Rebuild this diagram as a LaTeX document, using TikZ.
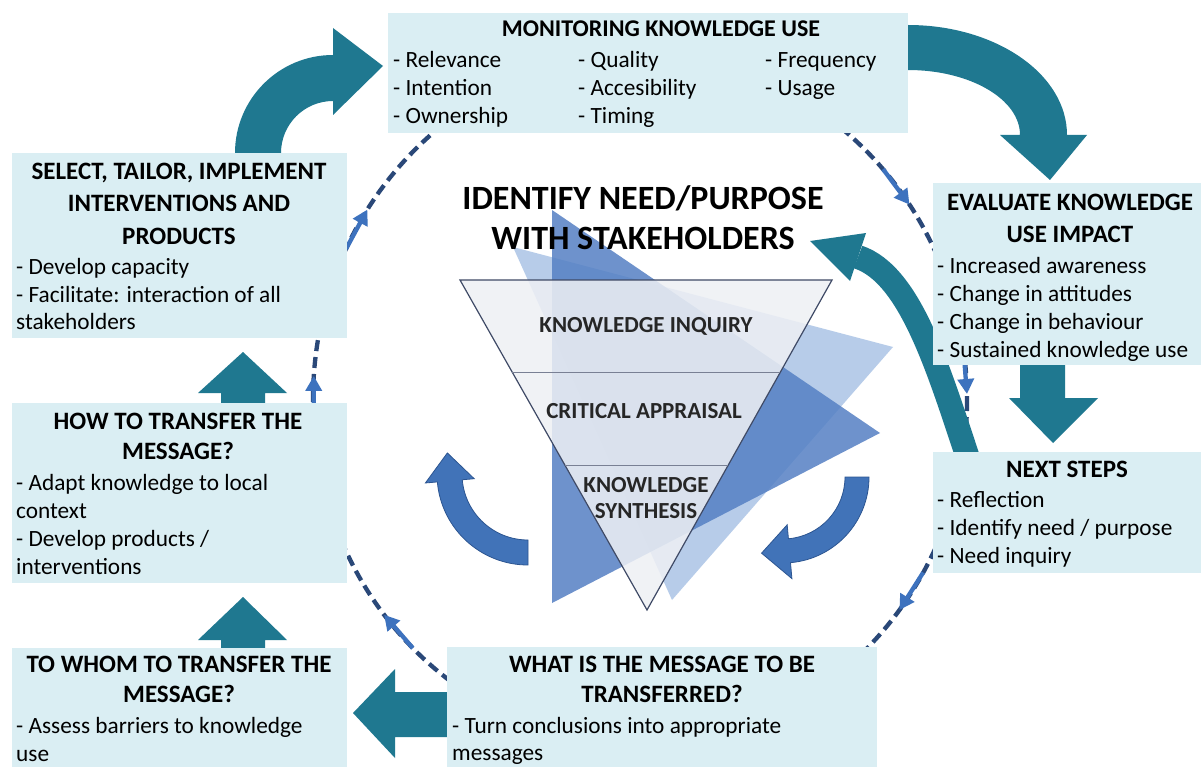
\documentclass[tikz,border=0pt]{standalone}
\usepackage{fontspec}
\setmainfont{Carlito}
\usetikzlibrary{calc,arrows.meta}
\definecolor{boxfill}{HTML}{DAEEF3}
\definecolor{tealarr}{HTML}{1F7890}
\definecolor{dashc}{HTML}{2A4878}
\definecolor{arrhead}{HTML}{3D72BE}
\definecolor{smallarr}{HTML}{4173B8}
\definecolor{smallarrline}{HTML}{2C5591}
\definecolor{tlight}{HTML}{A6C0E4}
\definecolor{tdark}{HTML}{5580C4}
\definecolor{trifill}{HTML}{EEF0F4}
\definecolor{triline}{HTML}{3F4A66}
\begin{document}
\begin{tikzpicture}[x=1pt,y=-1pt,
  panel/.style={fill=boxfill, draw=none, inner sep=0pt, anchor=north west},
  hd/.style={font=\fontsize{25}{30}\selectfont\bfseries, anchor=base, inner sep=0pt},
  itm/.style={font=\fontsize{23.3}{28}\selectfont, anchor=base west, inner sep=0pt},
  trilabel/.style={font=\fontsize{23}{28}\selectfont\bfseries, anchor=base, inner sep=0pt, text=black!85},
  bigtitle/.style={font=\fontsize{34}{40}\selectfont\bfseries, anchor=base, inner sep=0pt},
  tealfill/.style={fill=tealarr},
  smallarrow/.style={fill=smallarr, draw=smallarrline, line width=0.8pt},
  dashring/.style={draw=dashc, line width=4.3pt, dash pattern=on 11pt off 6pt},
  ringhead/.style={draw=arrhead, line width=4.3pt, -{Triangle[length=15pt,width=16pt]}}
]
\useasboundingbox (0,0) rectangle (1201,767);
\fill[white] (0,0) rectangle (1201,767);

% dashed cycle
\coordinate (C) at (640,400);
\draw[dashring] (C) ellipse [x radius=327, y radius=345];
\foreach \t/\nm in {212/ra,182.5/rb,140/rc,36/rd,-2.5/re,-36/rf}{
  \pgfmathsetmacro\ta{\t-6}
  \pgfmathsetmacro\tb{\t+1.5}
  \coordinate (\nm s) at ($(C)+(\ta:327 and 345)$);
  \coordinate (\nm e) at ($(C)+(\tb:327 and 345)$);
  \draw[ringhead] (\nm s) -- (\nm e);
}

% central triangles
\fill[tlight, opacity=0.8] (513,247) -- (893,347) -- (672,600) -- cycle;
\fill[tdark, opacity=0.85] (552,210) -- (880,433) -- (552,603) -- cycle;
\coordinate (tl) at (460,280);
\coordinate (tr) at (832,280);
\coordinate (tb) at (647,610);
\fill[trifill, opacity=0.86] (tl) -- (tr) -- (tb) -- cycle;
\draw[triline, line width=1.2pt] (tl) -- (tr) -- (tb) -- cycle;
\draw[triline!70, line width=0.9pt] ($(tl)!0.2788!(tb)$) -- ($(tr)!0.2788!(tb)$);
\draw[triline!70, line width=0.9pt] ($(tl)!0.5606!(tb)$) -- ($(tr)!0.5606!(tb)$);
\node[trilabel] (ki) at (646,332) {KNOWLEDGE INQUIRY};
\node[trilabel] (ca) at (644,418) {CRITICAL APPRAISAL};
\node[trilabel] (ks1) at (646,492) {KNOWLEDGE};
\node[trilabel] (ks2) at (646,518) {SYNTHESIS};

\node[bigtitle] (t1) at (643,210) {IDENTIFY NEED/PURPOSE};
\node[bigtitle] (t2) at (643,250) {WITH STAKEHOLDERS};

% small blue curved arrows
\coordinate (g1) at (528,474);
\filldraw[smallarrow] ($(g1)+(90:91)$) arc[start angle=90,end angle=175,radius=91]
  -- ($(g1)+(175:103)$) -- ($(g1)+(175:78.5)+(265:28)$) -- ($(g1)+(175:54)$)
  -- ($(g1)+(175:66)$) arc[start angle=175,end angle=90,radius=66] -- cycle;
\coordinate (g2) at (783,477);
\filldraw[smallarrow] ($(g2)+(0:86)$) arc[start angle=0,end angle=85,radius=86]
  -- ($(g2)+(85:102)$) -- ($(g2)+(85:74)+(175:28)$) -- ($(g2)+(85:48)$)
  -- ($(g2)+(85:62)$) arc[start angle=85,end angle=0,radius=62] -- cycle;

% teal arrows
\fill[tealfill] (235,160) -- (235,153) arc[start angle=180,end angle=270,radius=98]
  -- (333,28) -- (383,66) -- (333,115) -- (333,101)
  arc[start angle=270,end angle=180,radius=52] -- (281,160) -- cycle;
\fill[tealfill] (895,25) -- (908,25) arc[start angle=270,end angle=360,x radius=159,y radius=110]
  -- (1087,135) -- (1050,180) -- (1000,135) -- (1020,135)
  arc[start angle=360,end angle=270,x radius=112,y radius=65] -- (895,70) -- cycle;
\fill[tealfill] (1020,360) -- (1065,360) -- (1065,398) -- (1098,398) -- (1053,443) -- (1009,398) -- (1020,398) -- cycle;
\draw[tealarr, line width=24pt] (972,470) .. controls (940,375) and (912,275) .. (858,257);
\fill[tealfill] (866,233) -- (810,241) -- (850,281) -- cycle;
\fill[tealfill] (221,405) -- (221,393) -- (198,393) -- (243,352) -- (287,393) -- (265,393) -- (265,405) -- cycle;
\fill[tealfill] (221,650) -- (221,640) -- (198,640) -- (243,597) -- (287,640) -- (265,640) -- (265,650) -- cycle;
\fill[tealfill] (452,692) -- (395,692) -- (395,669) -- (353,713) -- (395,758) -- (395,737) -- (452,737) -- cycle;

% boxes
\node[panel, minimum width=520pt, minimum height=120pt] (mon) at (388,13) {};
\node[panel, minimum width=335pt, minimum height=185pt] (sel) at (12,153) {};
\node[panel, minimum width=335pt, minimum height=180pt] (how) at (12,403) {};
\node[panel, minimum width=335pt, minimum height=119pt] (whom) at (12,648) {};
\node[panel, minimum width=430pt, minimum height=120pt] (what) at (447,647) {};
\node[panel, minimum width=268pt, minimum height=182pt] (eval) at (933,183) {};
\node[panel, minimum width=268pt, minimum height=121pt] (next) at (933,452) {};

% monitoring text
\node[hd, font=\fontsize{24}{30}\selectfont\bfseries] (monT) at (661,37) {MONITORING KNOWLEDGE USE};
\node[itm] (m1) at (393,68) {- Relevance};
\node[itm] (m2) at (393,96) {- Intention};
\node[itm] (m3) at (393,124) {- Ownership};
\node[itm] (m4) at (578,68) {- Quality};
\node[itm] (m5) at (578,96) {- Accesibility};
\node[itm] (m6) at (578,124) {- Timing};
\node[itm] (m7) at (765,68) {- Frequency};
\node[itm] (m8) at (765,96) {- Usage};

% select text
\node[hd] (selT1) at (179,180) {SELECT, TAILOR, IMPLEMENT};
\node[hd] (selT2) at (179,212) {INTERVENTIONS AND};
\node[hd] (selT3) at (179,244) {PRODUCTS};
\node[itm] (s1) at (16,274) {- Develop capacity};
\node[itm] (s2) at (16,302) {- Facilitate: interaction of all};
\node[itm] (s3) at (16,329) {stakeholders};

% how text
\node[hd] (howT1) at (178,429) {HOW TO TRANSFER THE};
\node[hd] (howT2) at (178,459) {MESSAGE?};
\node[itm] (h1) at (16,490) {- Adapt knowledge to local};
\node[itm] (h2) at (16,518) {context};
\node[itm] (h3) at (16,546) {- Develop products /};
\node[itm] (h4) at (16,574) {interventions};

% to whom text
\node[hd] (whT1) at (179,672) {TO WHOM TO TRANSFER THE};
\node[hd] (whT2) at (179,702) {MESSAGE?};
\node[itm] (w1) at (16,733) {- Assess barriers to knowledge};
\node[itm] (w2) at (16,761) {use};

% what text
\node[hd] (wtT1) at (662,672) {WHAT IS THE MESSAGE TO BE};
\node[hd] (wtT2) at (662,702) {TRANSFERRED?};
\node[itm] (wt1) at (452,733) {- Turn conclusions into appropriate};
\node[itm] (wt2) at (452,760) {messages};

% evaluate text
\node[hd] (evT1) at (1070,211) {EVALUATE KNOWLEDGE};
\node[hd] (evT2) at (1070,243) {USE IMPACT};
\node[itm] (e1) at (937,273) {- Increased awareness};
\node[itm] (e2) at (937,301) {- Change in attitudes};
\node[itm] (e3) at (937,329) {- Change in behaviour};
\node[itm] (e4) at (937,357) {- Sustained knowledge use};

% next steps text
\node[hd] (nxT) at (1067,477) {NEXT STEPS};
\node[itm] (n1) at (937,507) {- Reflection};
\node[itm] (n2) at (937,535) {- Identify need / purpose};
\node[itm] (n3) at (937,563) {- Need inquiry};
\end{tikzpicture}
\end{document}
